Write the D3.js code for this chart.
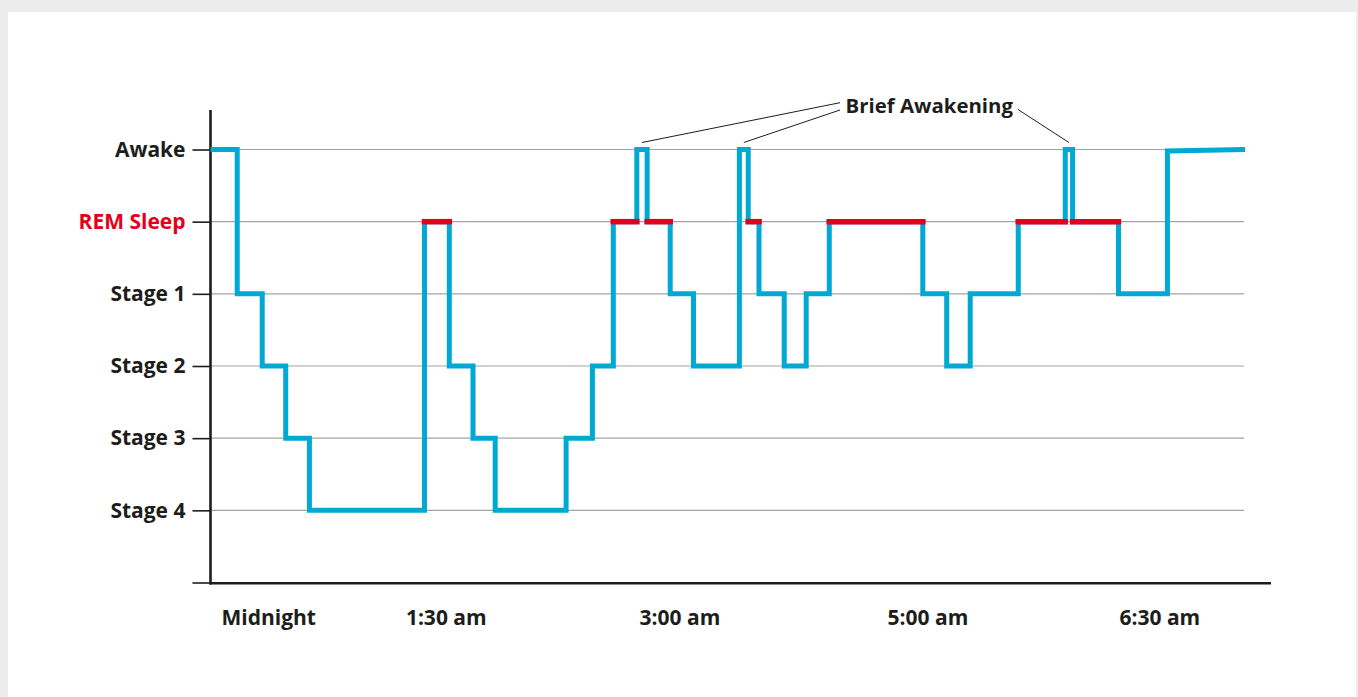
<!DOCTYPE html>
<html>
<head>
<meta charset="utf-8">
<script src="https://cdn.jsdelivr.net/npm/d3@7"></script>
<style>
  html, body { margin: 0; padding: 0; background: #ebeceb; }
  svg { display: block; }
  text { font-family: "Open Sans", "Noto Sans", sans-serif; font-weight: 700; }
</style>
</head>
<body>
<svg id="chart" width="1358" height="697"></svg>
<script>
// ---------- data ----------
// stage levels: 0 = baseline, 1 = Stage 4 ... 5 = REM Sleep, 6 = Awake
const stageLevels = [0, 1, 2, 3, 4, 5, 6];
const stageLabels = ["", "Stage 4", "Stage 3", "Stage 2", "Stage 1", "REM Sleep", "Awake"];

// time in minutes (schematic), start of each step
const stepTimes  = [0, 12.4, 24.0, 34.9, 45.9, 99.3, 110.8, 121.8, 132.1, 165.0, 177.2,
                    186.9, 197.8, 202.6, 213.3, 224.1, 245.4, 249.5, 254.5, 266.2, 276.4,
                    287.1, 330.5, 341.6, 352.5, 374.8, 396.6, 400.0, 421.3, 444.0];
const stepStages = [6, 4, 3, 2, 1, 5, 3, 2, 1, 2, 3,
                    5, 6, 5, 4, 3, 6, 5, 4, 3, 4,
                    5, 4, 3, 4, 5, 6, 5, 4, 5.98];
const endTime = 480;
const endStage = 6;

// x-axis tick labels and their positions (minutes)
const tickLabels = ["Midnight", "1:30 am", "3:00 am", "5:00 am", "6:30 am"];
const tickTimes  = [27.0, 109.4, 217.8, 332.9, 440.5];

const annotationText = "Brief Awakening";

// ---------- layout ----------
const svg = d3.select("#chart");
const blue = "#00a9d4", red = "#e3001b", ink = "#1d1d1b";

svg.append("rect").attr("x", 8).attr("y", 12).attr("width", 1348).attr("height", 685).attr("fill", "#ffffff");

const x = d3.scaleLinear().domain([0, endTime]).range([210.5, 1245]);
const y = d3.scaleLinear().domain([0, 6]).range([582.5, 149.5]);

// gridlines
svg.append("g").selectAll("line")
  .data(stageLevels.filter(d => d > 0))
  .join("line")
  .attr("x1", 210.5).attr("x2", 1244)
  .attr("y1", d => y(d)).attr("y2", d => y(d))
  .attr("stroke", "#a3a3a3").attr("stroke-width", 1.2);

// y axis
const yAxis = d3.axisLeft(y)
  .tickValues(stageLevels)
  .tickSize(18)
  .tickPadding(7)
  .tickFormat((d, i) => stageLabels[i]);
const gy = svg.append("g").attr("transform", "translate(210.5,0)").call(yAxis);
gy.select(".domain").remove();
gy.selectAll(".tick line").attr("stroke", ink).attr("stroke-width", 1.6);
gy.selectAll(".tick text")
  .attr("font-size", 21)
  .attr("font-family", '"Open Sans", sans-serif')
  .attr("font-weight", 700)
  .attr("fill", (d) => d === 5 ? red : ink);

// axis lines
svg.append("line").attr("x1", 210.5).attr("x2", 210.5).attr("y1", 110).attr("y2", 584.5)
  .attr("stroke", ink).attr("stroke-width", 2.6);
svg.append("line").attr("x1", 209.2).attr("x2", 1271).attr("y1", 583.2).attr("y2", 583.2)
  .attr("stroke", ink).attr("stroke-width", 2.6);

// x labels
svg.append("g").selectAll("text")
  .data(tickTimes)
  .join("text")
  .attr("x", d => x(d))
  .attr("y", 625)
  .attr("text-anchor", "middle")
  .attr("font-size", 21)
  .attr("fill", ink)
  .text((d, i) => tickLabels[i]);

// hypnogram vertices
const pts = [];
for (let i = 0; i < stepTimes.length; i++) {
  pts.push([stepTimes[i], stepStages[i]]);
  if (i < stepTimes.length - 1) pts.push([stepTimes[i + 1], stepStages[i]]);
  else pts.push([endTime, endStage]);
}
const line = d3.line().x(d => x(d[0])).y(d => y(d[1]));
svg.append("path")
  .attr("d", line(pts))
  .attr("fill", "none")
  .attr("stroke", blue)
  .attr("stroke-width", 5)
  .attr("stroke-linejoin", "miter")
  .attr("stroke-linecap", "butt");

// REM overlays
const rem = [];
for (let i = 0; i < stepTimes.length; i++) {
  if (stepStages[i] === 5) rem.push([stepTimes[i], i < stepTimes.length - 1 ? stepTimes[i + 1] : endTime]);
}
svg.append("g").selectAll("line")
  .data(rem)
  .join("line")
  .attr("x1", d => x(d[0])).attr("x2", d => x(d[1]))
  .attr("y1", y(5)).attr("y2", y(5))
  .attr("stroke", red)
  .attr("stroke-width", 5.5)
  .attr("stroke-linecap", "square");

// brief awakenings: short Awake spikes between REM periods
const spikes = [];
for (let i = 1; i < stepTimes.length - 1; i++) {
  if (stepStages[i] === 6 && stepStages[i + 1] === 5 && stepTimes[i + 1] - stepTimes[i] < 10) {
    spikes.push((stepTimes[i] + stepTimes[i + 1]) / 2);
  }
}
const ann = svg.append("g");
ann.append("text")
  .attr("x", 845.5).attr("y", 113.3)
  .attr("font-size", 20.4)
  .attr("fill", ink)
  .text(annotationText);
const starts = [[840, 102.7], [840, 110], [1017.7, 109.3]];
ann.selectAll("line.lead")
  .data(spikes)
  .join("line")
  .attr("class", "lead")
  .attr("x1", (d, i) => starts[i][0]).attr("y1", (d, i) => starts[i][1])
  .attr("x2", d => x(d)).attr("y2", y(6) - 7)
  .attr("stroke", ink).attr("stroke-width", 1);
</script>
</body>
</html>
